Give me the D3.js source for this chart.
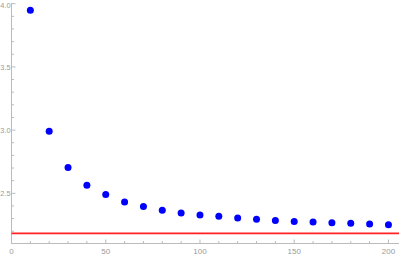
<!DOCTYPE html>
<html>
<head>
<meta charset="utf-8">
<script src="https://cdn.jsdelivr.net/npm/d3@7"></script>
<style>
  html, body { margin: 0; padding: 0; background: #fff; }
  svg { display: block; }
  .tick-label { font-family: "Liberation Sans", Arial, sans-serif; font-size: 8px; fill: #999; }
  .ylab { font-size: 7.4px; }
</style>
</head>
<body>
<svg id="chart"></svg>
<script>
'use strict';

// data
const xs = [10, 20, 30, 40, 50, 60, 70, 80, 90, 100,
            110, 120, 130, 140, 150, 160, 170, 180, 190, 200];
const ys = [3.948, 2.99, 2.705, 2.563, 2.49, 2.431, 2.395, 2.366, 2.344, 2.328,
            2.318, 2.305, 2.294, 2.284, 2.278, 2.273, 2.268, 2.263, 2.257, 2.252];
const limit = 2.183;
const xTicks = [0, 50, 100, 150, 200];
const yTicks = [2.5, 3.0, 3.5, 4.0];

const width = 400, height = 256;
const svg = d3.select('#chart').attr('width', width).attr('height', height);

const x = d3.scaleLinear().domain([0, 205.6]).range([11.5, 399]);
const y = d3.scaleLinear().domain([2.103, 4.0]).range([243.5, 3.7]);

const axisCol = '#bbb';

// axis lines
svg.append('line')
    .attr('x1', x(0)).attr('x2', x(205.6))
    .attr('y1', y(2.103)).attr('y2', y(2.103))
    .attr('stroke', axisCol).attr('stroke-width', 1);
svg.append('line')
    .attr('x1', x(0)).attr('x2', x(0))
    .attr('y1', y(2.103)).attr('y2', 3)
    .attr('stroke', axisCol).attr('stroke-width', 1);

// x ticks (minor every 10, major every 50)
const xMinor = d3.range(0, 206, 10);
svg.selectAll('.xt').data(xMinor).enter().append('line')
    .attr('x1', d => x(d)).attr('x2', d => x(d))
    .attr('y1', y(2.103))
    .attr('y2', d => y(2.103) - (d % 50 === 0 ? 4 : 2.5))
    .attr('stroke', axisCol);
svg.selectAll('.xl').data(xTicks).enter().append('text')
    .attr('class', 'tick-label')
    .attr('x', d => x(d)).attr('y', 254)
    .attr('text-anchor', 'middle')
    .text(d => d);

// y ticks (minor every 0.1, major every 0.5)
const yMinor = d3.range(22, 41).map(v => v / 10);
svg.selectAll('.yt').data(yMinor).enter().append('line')
    .attr('x1', x(0))
    .attr('x2', d => x(0) + (Math.round(d * 10) % 5 === 0 ? 4 : 2.5))
    .attr('y1', d => y(d)).attr('y2', d => y(d))
    .attr('stroke', axisCol);
svg.selectAll('.yl').data(yTicks).enter().append('text')
    .attr('class', 'tick-label ylab')
    .attr('x', 10.6).attr('y', d => Math.max(y(d) + 3, 8))
    .attr('text-anchor', 'end')
    .text(d => d.toFixed(1));

// limit line
svg.append('line')
    .attr('x1', x(0)).attr('x2', x(205.6))
    .attr('y1', y(limit)).attr('y2', y(limit))
    .attr('stroke', '#f22').attr('stroke-width', 1.6);

// points
svg.selectAll('.pt').data(xs).enter().append('circle')
    .attr('cx', d => x(d))
    .attr('cy', (d, i) => y(ys[i]))
    .attr('r', 3.5)
    .attr('fill', '#0000ff');
</script>
</body>
</html>
